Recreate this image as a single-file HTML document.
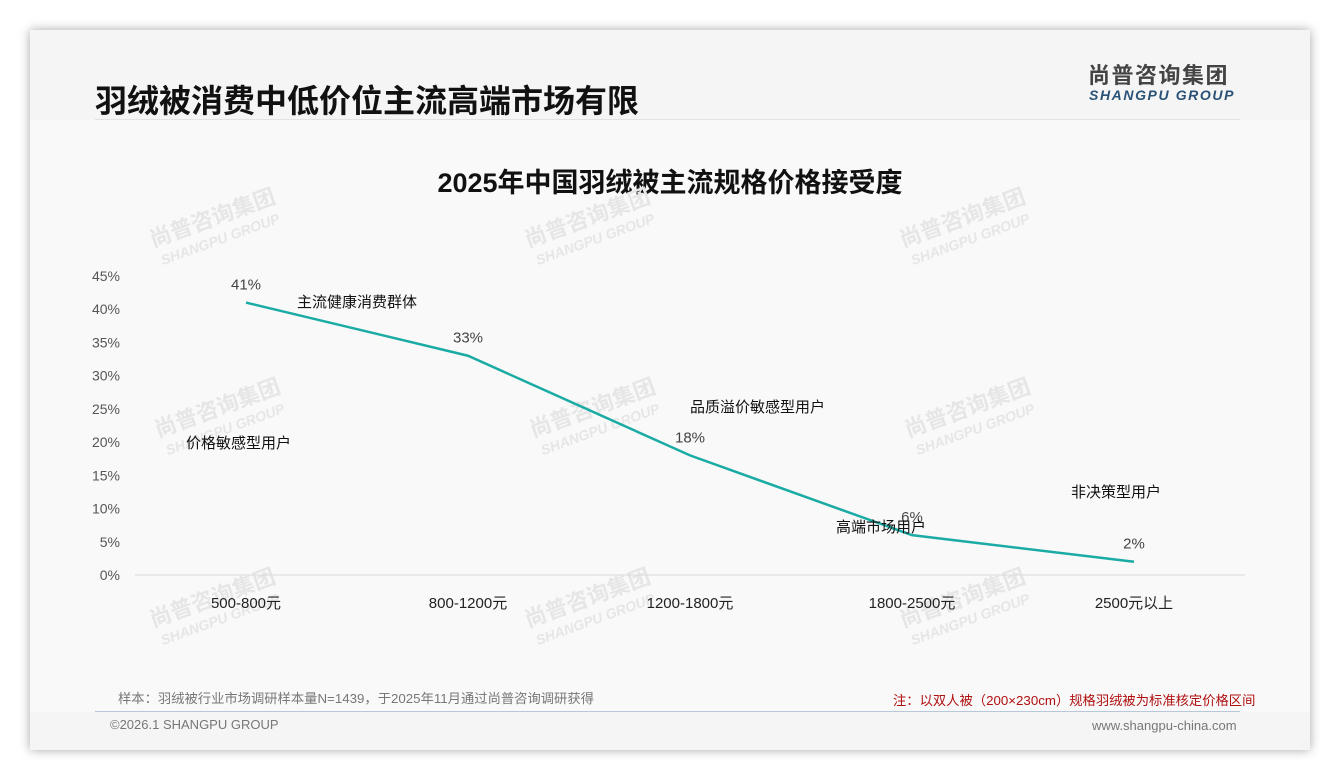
<!DOCTYPE html>
<html><head><meta charset="utf-8">
<style>
body{margin:0;width:1340px;height:780px;background:#fff;font-family:"Liberation Sans","Noto Sans CJK SC",sans-serif;position:relative;overflow:hidden}
.card{position:absolute;left:30px;top:30px;width:1280px;height:720px;background:#f5f5f5;box-shadow:0 0 10px rgba(0,0,0,.35)}
.main{position:absolute;left:30px;top:120px;width:1280px;height:592px;background:#f9f9f9}
.t{position:absolute;white-space:nowrap}
</style></head><body>
<div class="card"></div>
<div class="main"></div>
<div class="t" style="left:95px;top:76px;font-size:32px;font-weight:bold;color:#111">羽绒被消费中低价位主流高端市场有限</div>
<div style="position:absolute;left:95px;top:119px;width:1145px;height:1px;background:#e2e2e2"></div>
<div class="t" style="left:1088px;top:65px;font-size:22px;line-height:22px;font-weight:bold;color:#444;letter-spacing:1.5px">尚普咨询集团</div>
<div class="t" style="left:1089px;top:88px;font-size:14px;line-height:15px;font-weight:bold;font-style:italic;color:#2a5277;letter-spacing:1.6px">SHANGPU GROUP</div>
<div class="t" style="left:0;width:1340px;text-align:center;top:161px;font-size:27px;font-weight:bold;color:#111">2025年中国羽绒被主流规格价格接受度</div>
<svg id="chart" width="1340" height="780" style="position:absolute;left:0;top:0"></svg>
<div class="t" style="left:118px;top:688px;font-size:13.3px;color:#777">样本：羽绒被行业市场调研样本量N=1439，于2025年11月通过尚普咨询调研获得</div>
<div class="t" style="left:893px;top:690px;font-size:13.3px;color:#b01010">注：以双人被（200×230cm）规格羽绒被为标准核定价格区间</div>
<div style="position:absolute;left:95px;top:711px;width:1145px;height:1px;background:#b8c8d8"></div>
<div class="t" style="left:110px;top:717px;font-size:13px;color:#777">©2026.1 SHANGPU GROUP</div>
<div class="t" style="left:1092px;top:718px;font-size:13px;color:#777">www.shangpu-china.com</div>
<script>
const categories=["500-800元","800-1200元","1200-1800元","1800-2500元","2500元以上"];
const values=[41,33,18,6,2];
const yTicks=[0,5,10,15,20,25,30,35,40,45];
const notes=[["价格敏感型用户",186,443],["主流健康消费群体",297,302],["品质溢价敏感型用户",690,407],["高端市场用户",836,527],["非决策型用户",1071,492]];
const svg=document.getElementById('chart');const NS='http://www.w3.org/2000/svg';
const x0=135,x1=1245,band=(x1-x0)/categories.length;
const X=i=>x0+band*(i+0.5);const Y=v=>575-v*(575-276)/45;
function mk(t,a){const e=document.createElementNS(NS,t);for(const k in a)e.setAttribute(k,a[k]);svg.appendChild(e);return e;}
[[215,225],[590,225],[965,225],[220,415],[595,415],[970,415],[215,605],[590,605],[965,605]].forEach(p=>{
const g=mk('g',{transform:`translate(${p[0]},${p[1]}) rotate(-20)`,fill:'#e6e6e6','font-weight':'bold'});


const a=document.createElementNS(NS,'text');a.setAttribute('text-anchor','middle');a.setAttribute('font-size','22');a.textContent='尚普咨询集团';g.appendChild(a);
const b=document.createElementNS(NS,'text');b.setAttribute('text-anchor','middle');b.setAttribute('y','20');b.setAttribute('font-size','14');b.setAttribute('font-style','italic');b.textContent='SHANGPU GROUP';g.appendChild(b);});
const ax=mk('line',{x1:x0,x2:x1,y1:Y(0),y2:Y(0),stroke:'#d9d9d9'});


yTicks.forEach(v=>{const t=mk('text',{x:120,y:Y(v)+5,'text-anchor':'end','font-size':'14',fill:'#555'});t.textContent=v+'%';

});
categories.forEach((c,i)=>{const t=mk('text',{x:X(i),y:608,'text-anchor':'middle','font-size':'15',fill:'#222'});t.textContent=c;

});
const pl=mk('polyline',{points:values.map((v,i)=>X(i)+','+Y(v)).join(' '),fill:'none',stroke:'#1aaba4','stroke-width':'2.5'});


values.forEach((v,i)=>{const t=mk('text',{x:X(i),y:Y(v)-13,'text-anchor':'middle','font-size':'15',fill:'#444'});t.textContent=v+'%';

});
notes.forEach(n=>{const t=mk('text',{x:n[1],y:n[2]+5,'font-size':'15',fill:'#111'});t.textContent=n[0];

});
</script>
</body></html>
